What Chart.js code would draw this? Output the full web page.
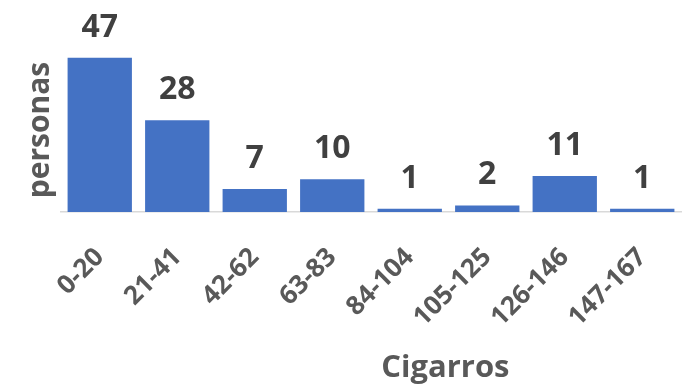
<!DOCTYPE html>
<html>
<head>
<meta charset="utf-8">
<script src="https://cdn.jsdelivr.net/npm/chart.js@4"></script>
<style>
  html, body { margin: 0; padding: 0; background: #ffffff; }
  #wrap { width: 689px; height: 388px; position: relative; }
</style>
</head>
<body>
<div id="wrap"><canvas id="c" width="689" height="388"></canvas></div>
<script>
const categories = ["0-20", "21-41", "42-62", "63-83", "84-104", "105-125", "126-146", "147-167"];
const personas = [47, 28, 7, 10, 1, 2, 11, 1];
const yTitle = "personas";
const xTitle = "Cigarros";

const FONT = "'Open Sans', 'DejaVu Sans', sans-serif";
const TEXT = "#595959";

const valueLabels = {
  id: 'valueLabels',
  afterDatasetsDraw(chart) {
    const ctx = chart.ctx;
    const meta = chart.getDatasetMeta(0);
    ctx.save();
    ctx.font = "bold 32px " + FONT;
    ctx.fillStyle = "#404040";
    ctx.textAlign = "center";
    ctx.textBaseline = "alphabetic";
    meta.data.forEach((bar, i) => {
      ctx.fillText(String(chart.data.datasets[0].data[i]), bar.x, bar.y - 21);
    });
    ctx.restore();
  }
};

const xAxisTitle = {
  id: 'xAxisTitle',
  afterDraw(chart) {
    const ctx = chart.ctx;
    const area = chart.chartArea;
    ctx.save();
    ctx.font = "bold 31px " + FONT;
    ctx.fillStyle = TEXT;
    ctx.textAlign = "center";
    ctx.textBaseline = "middle";
    ctx.fillText(xTitle, area.left + (area.right - area.left) * 0.62, chart.height - 20);
    ctx.restore();
  }
};

new Chart(document.getElementById('c'), {
  type: 'bar',
  data: {
    labels: categories,
    datasets: [{
      data: personas,
      backgroundColor: '#4472C4',
      borderWidth: 0,
      barPercentage: 0.83,
      categoryPercentage: 1.0
    }]
  },
  options: {
    responsive: false,
    animation: false,
    layout: { padding: { top: 48, right: 8, left: 0, bottom: 0 } },
    plugins: {
      legend: { display: false },
      tooltip: { enabled: false }
    },
    scales: {
      x: {
        grid: { display: false },
        border: { display: true, color: '#D9D9D9', width: 1.5 },
        ticks: {
          autoSkip: false,
          minRotation: 45,
          maxRotation: 45,
          padding: 22,
          color: TEXT,
          font: { family: FONT, size: 26, weight: 'bold' }
        },
        afterFit(scale) { scale.height = 176; }
      },
      y: {
        min: 0,
        max: 50,
        grid: { display: false },
        border: { display: false },
        ticks: { display: false },
        title: {
          display: true,
          text: yTitle,
          color: TEXT,
          padding: { top: 22, bottom: 0 },
          font: { family: FONT, size: 30, weight: 'bold' }
        },
        afterFit(scale) { scale.width = 61; }
      }
    }
  },
  plugins: [valueLabels, xAxisTitle]
});
</script>
</body>
</html>
